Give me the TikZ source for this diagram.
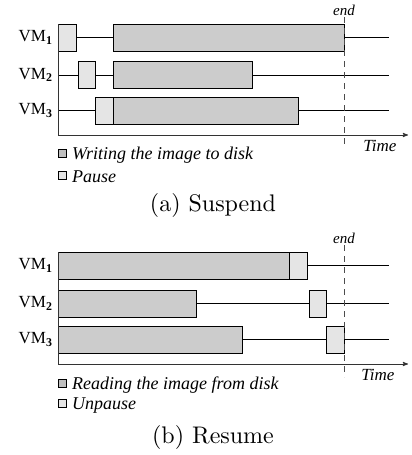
\documentclass[tikz,border=0pt]{standalone}
\usepackage{fontspec}
\newfontfamily\timesfont{Liberation Serif}
\newfontfamily\capfont{lmroman10-regular}[Extension=.otf]
\usetikzlibrary{arrows}

\tikzset{
  diskbox/.style={draw,fill=black!20,line width=0.8pt,inner sep=0pt,outer sep=0pt,minimum height=27pt,anchor=west},
  pausebox/.style={draw,fill=black!10,line width=0.8pt,inner sep=0pt,outer sep=0pt,minimum height=27pt,anchor=west},
  keybox/.style={draw,line width=0.6pt,inner sep=0pt,minimum size=8pt},
  vmlabel/.style={font=\timesfont\fontsize{17}{20}\selectfont,anchor=east},
  keytext/.style={font=\timesfont\itshape\fontsize{18}{20}\selectfont,anchor=west,inner sep=0pt},
  axis/.style={line width=0.9pt,black!80},
  timeline/.style={line width=0.8pt},
  endline/.style={line width=0.8pt,black!70,dash pattern=on 6pt off 5pt},
  caption/.style={font=\capfont\fontsize{24}{28}\selectfont}
}

\begin{document}
\begin{tikzpicture}[x=1pt,y=-1pt]
\useasboundingbox (0,0) rectangle (412,455);

% (a) Suspend
\node[vmlabel] (VMa1) at (56,37.5)  {VM\textsubscript{\textbf{1}}};
\node[vmlabel] (VMa2) at (56,75)    {VM\textsubscript{\textbf{2}}};
\node[vmlabel] (VMa3) at (56,110.5) {VM\textsubscript{\textbf{3}}};

\coordinate (Oa)  at (58,135);
\coordinate (Ta)  at (58,24);
\coordinate (Xa)  at (408,135);
\coordinate (Ea1) at (389,37.5);
\coordinate (Ea2) at (389,75);
\coordinate (Ea3) at (389,110.5);
\coordinate (Sa2) at (58,75);
\coordinate (Sa3) at (58,110.5);

\node[pausebox,minimum width=18pt]  (Pa1) at (58,37.5)  {};
\node[diskbox,minimum width=231pt]  (Wa1) at (113,37.5) {};
\node[pausebox,minimum width=17pt]  (Pa2) at (78,75)    {};
\node[diskbox,minimum width=139pt]  (Wa2) at (113,75)   {};
\node[pausebox,minimum width=18pt]  (Pa3) at (95,110.5) {};
\node[diskbox,minimum width=185pt]  (Wa3) at (113,110.5) {};

\draw[timeline] (Pa1.east) -- (Wa1.west)  (Wa1.east) -- (Ea1);
\draw[timeline] (Sa2) -- (Pa2.west)  (Pa2.east) -- (Wa2.west)  (Wa2.east) -- (Ea2);
\draw[timeline] (Sa3) -- (Pa3.west)  (Wa3.east) -- (Ea3);
\draw[axis] (Ta) -- (Oa);
\draw[axis,-stealth'] (Oa) -- (Xa);

\coordinate (Da1) at (344,17);
\coordinate (Da2) at (344,148);
\draw[endline] (Da1) -- (Da2);
\node[font=\timesfont\itshape\fontsize{15}{16}\selectfont] (ENDa) at (344,10) {end};
\node[font=\timesfont\itshape\fontsize{17}{18}\selectfont] (TIMEa) at (380,146) {Time};

\node[keybox,fill=black!25] (Ka1) at (62,153) {};
\node[keytext] (La1) at (72,155) {Writing the image to disk};
\node[keybox,fill=black!10] (Ka2) at (62,175) {};
\node[keytext] (La2) at (72,177) {Pause};
\node[caption] (CAPa) at (213,205) {(a) Suspend};

% (b) Resume
\node[vmlabel] (VMb1) at (56,265.5) {VM\textsubscript{\textbf{1}}};
\node[vmlabel] (VMb2) at (56,303.5) {VM\textsubscript{\textbf{2}}};
\node[vmlabel] (VMb3) at (56,339.5) {VM\textsubscript{\textbf{3}}};

\coordinate (Ob)  at (58,364);
\coordinate (Tb)  at (58,252);
\coordinate (Xb)  at (408,364);
\coordinate (Eb1) at (389,265.5);
\coordinate (Eb2) at (389,303.5);
\coordinate (Eb3) at (389,339.5);

\node[diskbox,minimum width=231pt]  (Rb1) at (58,265.5)  {};
\node[pausebox,minimum width=18pt]  (Ub1) at (289,265.5) {};
\node[diskbox,minimum width=138pt]  (Rb2) at (58,303.5)  {};
\node[pausebox,minimum width=17pt]  (Ub2) at (309,303.5) {};
\node[diskbox,minimum width=184pt]  (Rb3) at (58,339.5)  {};
\node[pausebox,minimum width=18pt]  (Ub3) at (326,339.5) {};

\draw[timeline] (Ub1.east) -- (Eb1);
\draw[timeline] (Rb2.east) -- (Ub2.west)  (Ub2.east) -- (Eb2);
\draw[timeline] (Rb3.east) -- (Ub3.west)  (Ub3.east) -- (Eb3);
\draw[axis] (Tb) -- (Ob);
\draw[axis,-stealth'] (Ob) -- (Xb);

\coordinate (Db1) at (344,245);
\coordinate (Db2) at (344,377);
\draw[endline] (Db1) -- (Db2);
\node[font=\timesfont\itshape\fontsize{15}{16}\selectfont] (ENDb) at (344,238) {end};
\node[font=\timesfont\itshape\fontsize{17}{18}\selectfont] (TIMEb) at (378,375) {Time};

\node[keybox,fill=black!25] (Kb1) at (62,383) {};
\node[keytext] (Lb1) at (72,385) {Reading the image from disk};
\node[keybox,fill=black!10] (Kb2) at (62,403) {};
\node[keytext] (Lb2) at (72,406) {Unpause};
\node[caption] (CAPb) at (213,437) {(b) Resume};

\end{tikzpicture}
\end{document}
